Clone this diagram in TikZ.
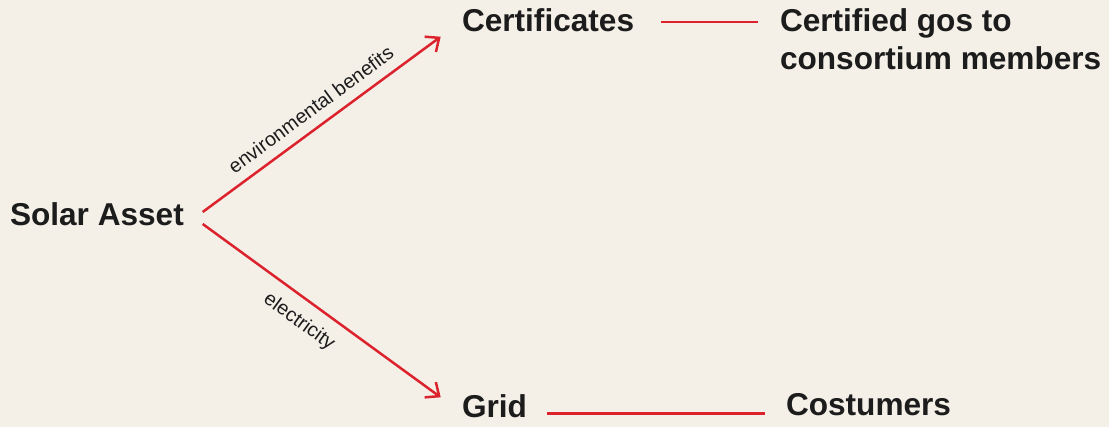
\documentclass[tikz,border=0pt]{standalone}
\usepackage{fontspec}
\setmainfont{Liberation Sans}
\usetikzlibrary{arrows.meta}
\definecolor{paper}{RGB}{244,240,232}
\definecolor{flow}{RGB}{220,35,45}
\definecolor{ink}{RGB}{28,28,28}
\begin{document}
\begin{tikzpicture}[x=1pt,y=-1pt,
  term/.style={inner sep=0pt, outer sep=0pt, anchor=base west, text=ink,
    font=\fontsize{31.6}{38}\selectfont\bfseries, align=left},
  flowline/.style={draw=flow, line width=2.5pt},
  flowarrow/.style={flowline, -{Straight Barb[length=11pt,width=19pt]}},
  tag/.style={inner sep=0pt, text=ink, font=\fontsize{19.8}{22}\selectfont, sloped}]
% page
\fill[paper] (0,0) rectangle (1109,427);
\useasboundingbox (0,0) rectangle (1109,427);

% terms (the two-line node sits on its last baseline)
\node[term] (solar) at (10,226) {Solar Asset};
\node[term] (cert)  at (462,32) {Certificates};
\node[term] (gos)   at (780,70) {Certified gos to\\consortium members};
\node[term] (grid)  at (462,418) {Grid};
\node[term] (cust)  at (786,416) {Costumers};

% flows out of the asset
\draw[flowarrow] ([xshift=192.7pt,yshift=14pt]solar.base west)
  -- node[tag, pos=0.5, above=10pt] {environmental benefits}
  ([xshift=-21.3pt,yshift=-4.7pt]cert.base west);
\draw[flowarrow] ([xshift=192.7pt,yshift=2pt]solar.base west)
  -- node[tag, pos=0.46, below=12pt] {electricity}
  ([xshift=-21.3pt,yshift=20.7pt]grid.base west);

% onward links
\draw[flowline] ([xshift=199pt,yshift=10pt]cert.base west)
  -- ([xshift=-22pt,yshift=48pt]gos.base west);
\draw[flowline] ([xshift=85pt,yshift=4.3pt]grid.base west)
  -- ([xshift=-21pt,yshift=2.3pt]cust.base west);
\end{tikzpicture}
\end{document}
